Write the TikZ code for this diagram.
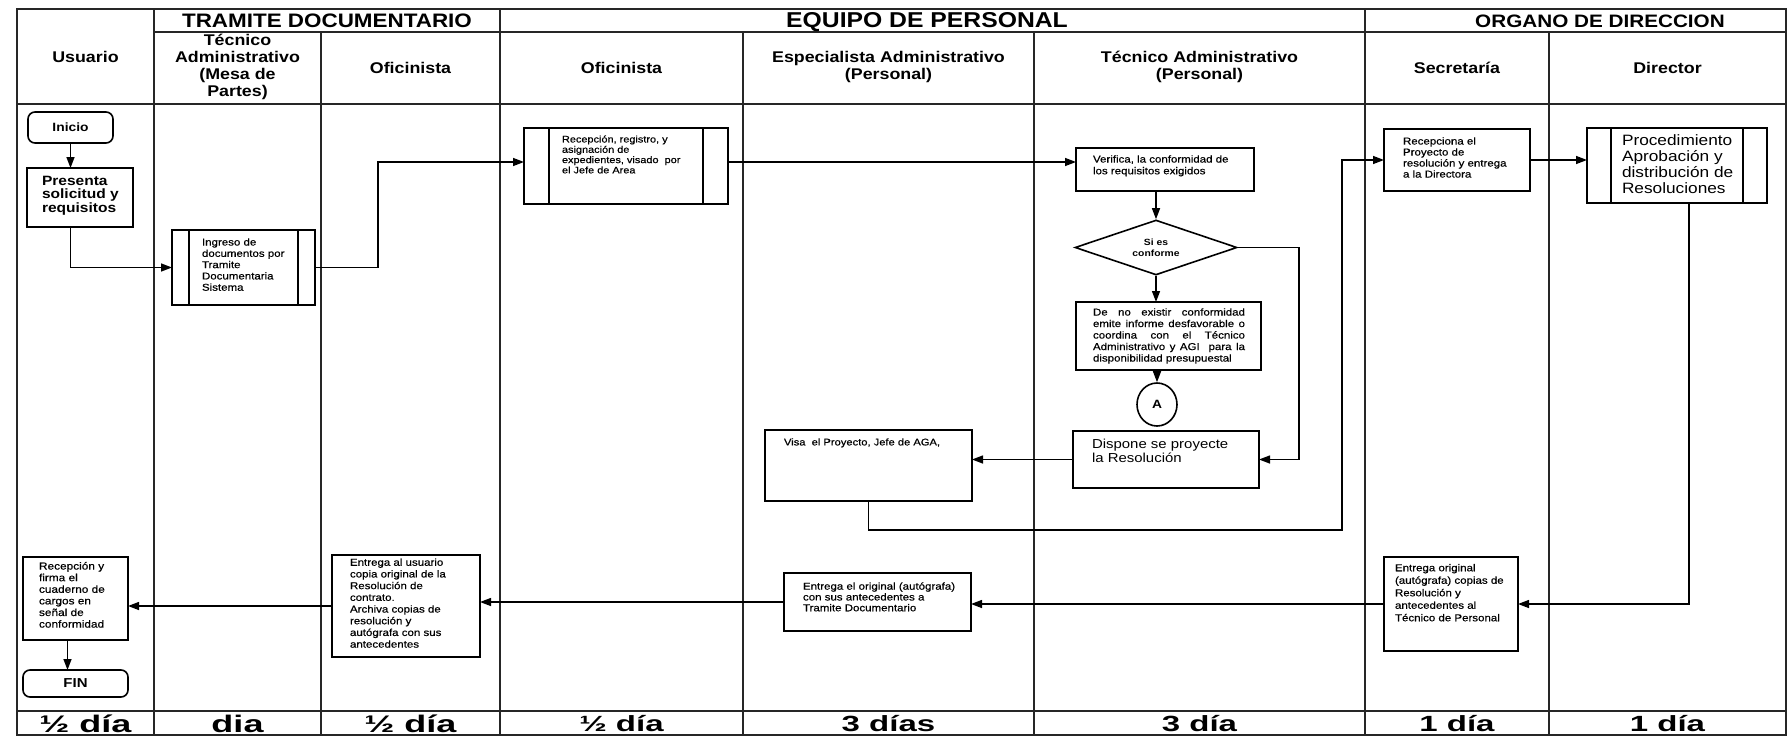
\documentclass[tikz,border=0pt]{standalone}
\usepackage{fontspec}
\setmainfont{Liberation Sans}[FakeStretch=1.15]
\newfontfamily\boxfont{Liberation Sans}[FakeStretch=1.15,FakeBold=0.5]
\newfontfamily\widefont{Liberation Sans}[FakeStretch=1.5]
\usetikzlibrary{arrows.meta,shapes.geometric}

\newcommand\fs[2]{\fontsize{#1}{#2}\selectfont}
% box by its corners: [style]{x1}{y1}{x2}{y2}{name}
\newcommand\placebox[6][]{%
  \node[box,#1,minimum width=#4pt-#2pt,minimum height=#5pt-#3pt] (#6) at (#2,#3) {};}
% inner side bars of a predefined-process box
\newcommand\sidebars[2]{%
  \draw[boxline] ([xshift=#2pt]#1.north west) -- ([xshift=#2pt]#1.south west)
                 ([xshift=-#2pt]#1.north east) -- ([xshift=-#2pt]#1.south east);}

\tikzset{
  lane/.style={line width=1.2pt,draw=black!85},
  boxline/.style={line width=1.6pt},
  box/.style={draw,boxline,inner sep=0pt,outer sep=0pt,anchor=north west},
  txt/.style={inner sep=0pt,outer sep=0pt,anchor=north west,align=left},
  hdr/.style={inner sep=0pt,align=center,font=\bfseries\fs{15.5}{17}},
  grp/.style={inner sep=0pt,font=\bfseries\fs{19.5}{20}},
  days/.style={inner sep=0pt,font=\widefont\bfseries\fs{22}{22}},
  bigdays/.style={inner sep=0pt,font=\widefont\bfseries\fs{24}{24}},
  arr/.style={line width=1.4pt,-{Triangle[length=11pt,width=8pt]}},
}

\begin{document}
\begin{tikzpicture}[x=1pt,y=-1pt]
\useasboundingbox (0,0) rectangle (1790,736);
\fill[white] (0,0) rectangle (1790,736);

% ---------- swimlane table ----------
\draw[lane] (17,9) rectangle (1786,735);
\draw[lane] (154,32) -- (1786,32);
\draw[lane] (17,104) -- (1786,104);
\draw[lane] (17,711) -- (1786,711);
\foreach \x in {154,500,1365} \draw[lane] (\x,9) -- (\x,735);
\foreach \x in {321,743,1034,1549} \draw[lane] (\x,32) -- (\x,735);

% group headings
\node[grp] (g-tram) at (327,20.5) {TRAMITE DOCUMENTARIO};
\node[grp,font=\bfseries\fs{21.5}{22}] (g-equi) at (927,22) {EQUIPO DE PERSONAL};
\node[grp,font=\bfseries\fs{18}{18}] (g-orga) at (1600,21.5) {ORGANO DE DIRECCION};

% lane headings
\node[hdr] (h-usu) at (85.5,57) {Usuario};
\node[hdr] (h-mesa) at (237.5,67) {Técnico\\Administrativo\\(Mesa de\\Partes)};
\node[hdr] (h-ofi1) at (410.5,68) {Oficinista};
\node[hdr] (h-ofi2) at (621.5,68) {Oficinista};
\node[hdr] (h-esp) at (888.5,67) {Especialista Administrativo\\(Personal)};
\node[hdr] (h-tec) at (1199.5,67) {Técnico Administrativo\\(Personal)};
\node[hdr] (h-sec) at (1457,68) {Secretaría};
\node[hdr] (h-dir) at (1667.5,68) {Director};

% durations
\node[bigdays] (d1) at (85.5,724) {½ día};
\node[bigdays] (d2) at (237.5,724) {dia};
\node[bigdays] (d3) at (410.5,724) {½ día};
\node[days] (d4) at (621.5,724) {½ día};
\node[days] (d5) at (888.5,724) {3 días};
\node[days] (d6) at (1199.5,724) {3 día};
\node[days] (d7) at (1457,724) {1 día};
\node[days] (d8) at (1667.5,724) {1 día};

% ---------- flow boxes ----------
\placebox[rounded corners=7pt]{28}{112}{113}{143}{inicio}
\node[font=\bfseries\fs{12}{12}] (inicio-t) at (inicio) {Inicio};

\placebox{27}{168}{133}{227}{presenta}
\node[txt,font=\bfseries\fs{13.5}{13.5}] (presenta-t) at ([shift={(15,8)}]presenta.north west)
  {Presenta\\solicitud y\\requisitos};

\placebox{172}{230}{315}{305}{ingreso}
\sidebars{ingreso}{17}
\node[txt,font=\boxfont\fs{10}{11.3}] (ingreso-t) at ([shift={(30,8.3)}]ingreso.north west)
  {Ingreso de\\documentos por\\Tramite\\Documentaria\\Sistema};

\placebox{524}{128}{728}{204}{recep}
\sidebars{recep}{25}
\node[txt,font=\boxfont\fs{9.5}{10.3}] (recep-t) at ([shift={(38,7.5)}]recep.north west)
  {Recepción, registro, y\\asignación de\\expedientes, visado\ \ por\\el Jefe de Area};

\placebox{1076}{148}{1254}{191}{verif}
\node[txt,font=\boxfont\fs{10}{11.7}] (verif-t) at ([shift={(17,7.3)}]verif.north west)
  {Verifica, la conformidad de\\los requisitos exigidos};

\node[draw,boxline,diamond,minimum width=162pt,minimum height=55pt,inner sep=0pt] (dia) at (1156,247.5) {};
\node[inner sep=0pt,align=center,font=\bfseries\fs{9}{10.7}] (dia-t) at (dia) {Si es\\conforme};

\placebox{1076}{302}{1261}{370}{deno}
\node[txt,font=\boxfont\fs{10}{11.5}] (deno-t) at ([shift={(17,6.3)}]deno.north west)
  {\makebox[152pt][s]{De no existir conformidad}\\
   \makebox[152pt][s]{emite informe desfavorable o}\\
   \makebox[152pt][s]{coordina con el Técnico}\\
   \makebox[152pt][s]{Administrativo y AGI\ \ para la}\\
   disponibilidad presupuestal};

\node[draw,boxline,ellipse,minimum width=40pt,minimum height=43pt,inner sep=0pt,
      font=\bfseries\fs{12}{12}] (circA) at (1157,404.5) {A};

\placebox{1073}{431}{1259}{488}{dispone}
\node[txt,font=\fs{13}{14}] (dispone-t) at ([shift={(19,8)}]dispone.north west)
  {Dispone se proyecte\\la Resolución};

\placebox{765}{430}{972}{501}{visa}
\node[txt,font=\boxfont\fs{9.7}{11}] (visa-t) at ([shift={(19,8.4)}]visa.north west)
  {Visa\ \ el Proyecto, Jefe de AGA,};

\placebox{1384}{129}{1530}{191}{recepciona}
\node[txt,font=\boxfont\fs{10}{11}] (recepciona-t) at ([shift={(19,8.3)}]recepciona.north west)
  {Recepciona el\\Proyecto de\\resolución y entrega\\a la Directora};

\placebox{1587}{128}{1767}{203}{proc}
\sidebars{proc}{24}
\node[txt,font=\fs{15}{16}] (proc-t) at ([shift={(35,7)}]proc.north west)
  {Procedimiento\\Aprobación y\\distribución de\\Resoluciones};

\placebox{1384}{557}{1518}{651}{entorig}
\node[txt,font=\boxfont\fs{10}{12.5}] (entorig-t) at ([shift={(11,7)}]entorig.north west)
  {Entrega original\\(autógrafa) copias de\\Resolución y\\antecedentes al\\Técnico de Personal};

\placebox{784}{573}{971}{631}{entreg}
\node[txt,font=\boxfont\fs{10}{10.8}] (entreg-t) at ([shift={(19,9.3)}]entreg.north west)
  {Entrega el original (autógrafa)\\con sus antecedentes a\\Tramite Documentario};

\placebox{332}{555}{480}{657}{entusu}
\node[txt,font=\boxfont\fs{10}{11.7}] (entusu-t) at ([shift={(18,3.5)}]entusu.north west)
  {Entrega al usuario\\copia original de la\\Resolución de\\contrato.\\Archiva copias de\\resolución y\\autógrafa con sus\\antecedentes};

\placebox{23}{557}{128}{640}{recfir}
\node[txt,font=\boxfont\fs{10.3}{11.6}] (recfir-t) at ([shift={(16,5)}]recfir.north west)
  {Recepción y\\firma el\\cuaderno de\\cargos en\\señal de\\conformidad};

\placebox[rounded corners=7pt]{23}{670}{128}{697}{fin}
\node[font=\bfseries\fs{13}{13}] (fin-t) at (fin) {FIN};

% ---------- connectors ----------
\coordinate (k1) at (378,200);
\coordinate (recep-in) at ([yshift=4pt]recep.west);
\coordinate (recep-out) at ([yshift=4pt]recep.east);

\draw[arr] (inicio.south) -- (inicio.south |- presenta.north);
\draw[arr] (presenta.south -| inicio.south) |- (ingreso.west);
\draw[arr] (ingreso.east) -| (k1) |- (recep-in);
\draw[arr] (recep-out) -- (recep-out -| verif.west);
\draw[arr] (verif.south -| dia.north) -- (dia.north);
\draw[arr] (dia.south) -- (dia.south |- deno.north);
\draw[arr] (deno.south -| circA.north) -- (circA.north);
\draw[arr] (dia.east) -| ([xshift=40pt]dispone.east) -- (dispone.east);
\draw[arr] (dispone.west) -- (dispone.west -| visa.east);
\draw[arr] (visa.south) -- ++(0,29) -| ([xshift=-42pt]recepciona.west) -- (recepciona.west);
\draw[arr] (recepciona.east) -- (recepciona.east -| proc.west);
\draw[arr] ([xshift=12pt]proc.south) |- (entorig.east);
\draw[arr] (entorig.west) -- (entorig.west -| entreg.east);
\draw[arr] (entreg.west) -- (entreg.west -| entusu.east);
\draw[arr] (entusu.west) -- (entusu.west -| recfir.east);
\draw[arr] ([xshift=-8pt]recfir.south) -- ([xshift=-8pt]fin.north);
\end{tikzpicture}
\end{document}
